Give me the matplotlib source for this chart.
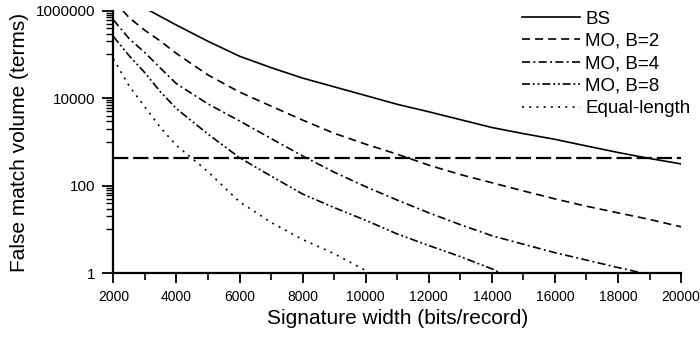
import matplotlib
matplotlib.use("Agg")
import matplotlib.pyplot as plt
from matplotlib.ticker import FixedLocator, NullFormatter

plt.rcParams['font.family'] = ['Liberation Sans', 'DejaVu Sans']
plt.rcParams['lines.scale_dashes'] = False

# ---- data ----
bs_x = [3150, 4000, 5000, 6000, 7000, 8000, 9000, 10000, 11000, 12000, 13000,
        14000, 15000, 16000, 17000, 18000, 19000, 20000]
bs_y = [1000000, 468000, 200000, 91000, 50000, 28800, 18200, 11500, 7250, 4900,
        3240, 2140, 1550, 1150, 810, 575, 420, 315]

mo2_x = [2300, 2500, 3000, 3500, 4000, 5000, 6000, 7000, 8000, 9000, 10000, 11000,
         12000, 13000, 14000, 15000, 16000, 17000, 18000, 19000, 20000]
mo2_y = [1000000, 692000, 355000, 200000, 105000, 33900, 13800, 6600, 3160, 1580,
         890, 525, 295, 180, 117, 76, 50, 34, 24, 17.0, 11.5]

mo4_x = [2000, 2500, 3000, 3500, 4000, 5000, 6000, 7000, 8000, 9000, 10000, 11000,
         12000, 13000, 14000, 15000, 16000, 17000, 18000, 18800]
mo4_y = [617000, 229000, 110000, 47900, 21400, 7400, 3020, 1200, 479, 204, 95, 47,
         24, 12.9, 7.2, 4.6, 2.95, 2.0, 1.35, 1.0]

mo8_x = [2000, 2500, 3000, 3500, 4000, 5000, 6000, 7000, 8000, 9000, 10000, 11000,
         12000, 13000, 14000, 14300]
mo8_y = [257000, 93300, 38000, 13800, 5750, 1510, 437, 166, 64.6, 31.6, 16.2, 7.9,
         4.3, 2.4, 1.26, 1.0]

eq_x = [2000, 2500, 3000, 3500, 4000, 4500, 5000, 6000, 7000, 8000, 9000, 10000, 10100]
eq_y = [79400, 19000, 6300, 2090, 832, 417, 209, 42.7, 14.5, 5.9, 2.8, 1.15, 1.0]

flat_x = [2000, 20000]
flat_y = [420, 420]

labels = ["BS", "MO, B=2", "MO, B=4", "MO, B=8", "Equal-length"]
xticks = [2000, 4000, 6000, 8000, 10000, 12000, 14000, 16000, 18000, 20000]
yticks = [1, 100, 10000, 1000000]

# ---- figure ----
fig = plt.figure(figsize=(7.0, 3.45), dpi=100)
ax = fig.add_axes([0.162, 0.208, 0.811, 0.761])

lw = 1.2
ax.plot(bs_x, bs_y, color='black', lw=lw, linestyle='-', label=labels[0])
ax.plot(mo2_x, mo2_y, color='black', lw=lw, linestyle=(0, (5.8, 3.6)), label=labels[1])
ax.plot(mo4_x, mo4_y, color='black', lw=lw, linestyle=(0, (5.8, 2.4, 1.4, 2.4)), label=labels[2])
ax.plot(mo8_x, mo8_y, color='black', lw=lw,
        linestyle=(0, (5.8, 2.0, 1.4, 2.0, 1.4, 2.0)), label=labels[3])
ax.plot(eq_x, eq_y, color='black', lw=lw, linestyle=(0, (1.4, 3.8)), label=labels[4])
ax.plot(flat_x, flat_y, color='black', lw=1.6, linestyle=(0, (11, 3.5)))

ax.set_yscale('log')
ax.set_xlim(2000, 20000)
ax.set_ylim(1, 1000000)

ax.xaxis.set_major_locator(FixedLocator(xticks))
ax.xaxis.set_minor_locator(FixedLocator(list(range(3000, 20000, 2000))))
ax.set_xticklabels([str(v) for v in xticks])

ax.yaxis.set_major_locator(FixedLocator(yticks))
minor_y = []
for base in [10, 1000, 100000]:
    minor_y += [m * base for m in range(1, 10)]
ax.yaxis.set_minor_locator(FixedLocator(minor_y))
ax.yaxis.set_minor_formatter(NullFormatter())
ax.set_yticklabels([str(v) for v in yticks])

for s in ['top', 'right']:
    ax.spines[s].set_visible(False)
for s in ['left', 'bottom']:
    ax.spines[s].set_linewidth(1.6)

ax.tick_params(axis='x', which='major', direction='out', length=7, width=1.3,
               labelsize=10, pad=5)
ax.tick_params(axis='x', which='minor', direction='out', length=5, width=1.2)
ax.tick_params(axis='y', which='major', direction='out', length=8, width=1.3,
               labelsize=11, pad=5)
ax.tick_params(axis='y', which='minor', direction='out', length=5, width=1.0)

ax.set_xlabel("Signature width (bits/record)", fontsize=15, labelpad=4)
ax.set_ylabel("False match volume (terms)", fontsize=15, labelpad=5)

leg = ax.legend(loc='upper left', bbox_to_anchor=(522 / 700, 1 - 10.5 / 345),
                bbox_transform=fig.transFigure, frameon=False,
                fontsize=13.5, handlelength=3.1, handletextpad=0.27,
                labelspacing=0.28, borderaxespad=0.0, borderpad=0.0)

fig.savefig("out.png", dpi=100)
